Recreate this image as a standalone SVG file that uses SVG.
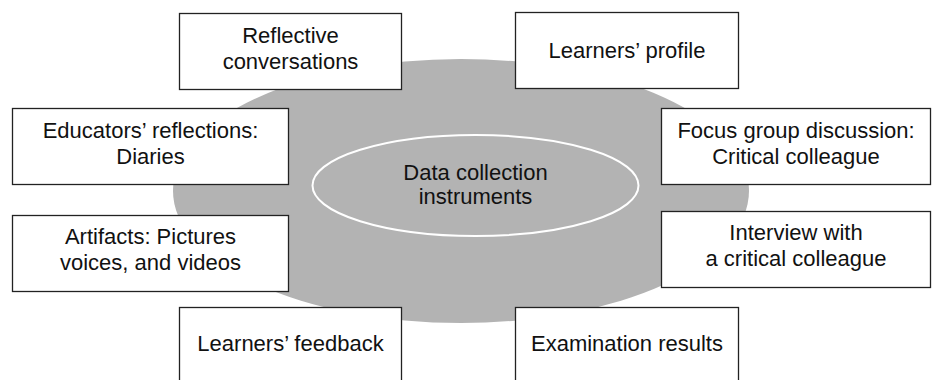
<svg xmlns="http://www.w3.org/2000/svg" width="932" height="380" viewBox="0 0 932 380">
  <style>
    .box { fill: #ffffff; stroke: #222222; stroke-width: 1.3; }
    .label { font-family: "Liberation Sans", Arial, sans-serif; font-size: 22px; fill: #111111; text-anchor: middle; }
  </style>

  <!-- background disc -->
  <g id="backdrop">
    <ellipse cx="461" cy="191" rx="288" ry="132" fill="#b3b3b3"/>
  </g>

  <!-- no connectors in this layout -->
  <g id="connectors"/>

  <!-- central hub -->
  <g id="hub">
    <ellipse cx="475.5" cy="185.5" rx="163" ry="50.5" fill="#b3b3b3" stroke="#ffffff" stroke-width="2"/>
    <text class="label" x="475.5" y="179.5">Data collection</text>
    <text class="label" x="475.5" y="204">instruments</text>
  </g>

  <g id="reflective-conversations">
    <rect class="box" x="179.5" y="13.5" width="222" height="76"/>
    <text class="label" x="290.5" y="42.5">Reflective</text>
    <text class="label" x="290.5" y="68.5">conversations</text>
  </g>

  <g id="learners-profile">
    <rect class="box" x="515.5" y="12.5" width="223" height="76"/>
    <text class="label" x="627" y="58">Learners’ profile</text>
  </g>

  <g id="educators-reflections">
    <rect class="box" x="12.5" y="108.5" width="276" height="76"/>
    <text class="label" x="150.5" y="137.5">Educators’ reflections:</text>
    <text class="label" x="150.5" y="163.5">Diaries</text>
  </g>

  <g id="focus-group">
    <rect class="box" x="661.5" y="108.5" width="269" height="76"/>
    <text class="label" x="796" y="137.5">Focus group discussion:</text>
    <text class="label" x="796" y="163.5">Critical colleague</text>
  </g>

  <g id="artifacts">
    <rect class="box" x="12.5" y="215.5" width="276" height="76"/>
    <text class="label" x="150.5" y="244">Artifacts: Pictures</text>
    <text class="label" x="150.5" y="270">voices, and videos</text>
  </g>

  <g id="interview">
    <rect class="box" x="661.5" y="211.5" width="269" height="76"/>
    <text class="label" x="796" y="240">Interview with</text>
    <text class="label" x="796" y="266">a critical colleague</text>
  </g>

  <g id="learners-feedback">
    <rect class="box" x="179.5" y="307.5" width="222" height="76"/>
    <text class="label" x="290.5" y="351">Learners’ feedback</text>
  </g>

  <g id="examination-results">
    <rect class="box" x="515.5" y="307.5" width="223" height="76"/>
    <text class="label" x="627" y="351">Examination results</text>
  </g>
</svg>
